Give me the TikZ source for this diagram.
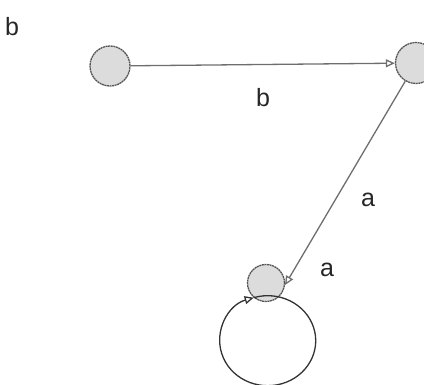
\documentclass[tikz,border=0pt]{standalone}
\usepackage{fontspec}
\setmainfont{Liberation Sans}
\usetikzlibrary{arrows.meta,positioning}
\definecolor{stfill}{HTML}{DCDCDC}
\definecolor{stdraw}{HTML}{555555}
\definecolor{edgegrey}{HTML}{6E6E6E}

\begin{document}
\begin{tikzpicture}[
  x=1pt, y=1pt,
  state/.style={
    circle, draw=stdraw, line width=1.3pt, dashed, dash pattern=on 2pt off 0.6pt,
    fill=stfill, inner sep=0pt},
  edge/.style={-{Triangle[open, length=9pt, width=8pt]}, edgegrey, line width=1.3pt},
  lbl/.style={font=\fontsize{25}{30}\selectfont, text=black!85},
]
  \useasboundingbox (0,0) rectangle (424,385);

  %% ---- States ----
  \node[state, minimum size=40pt] (q0) at (110,319) {};
  \node[state, minimum size=41pt] (q1) at (416,322) {};
  \node[state, minimum size=37pt] (q2) at (266,102) {};

  %% ---- Transitions ----
  \draw[edge] (q0) -- (q1);
  \draw[edge] (q1) -- (q2.-6);
  \draw[edge, black!80] (q2.230) arc[start angle=107, end angle=-253, x radius=48, y radius=45];

  %% ---- Labels ----
  \node[lbl] (start) at (12,358) {b};
  \node[lbl] (bq0q1) at (263,287) {b};
  \node[lbl] (aq1q2) at (368,185) {a};
  \node[lbl] (aloop) at (327,115) {a};

\end{tikzpicture}
\end{document}
